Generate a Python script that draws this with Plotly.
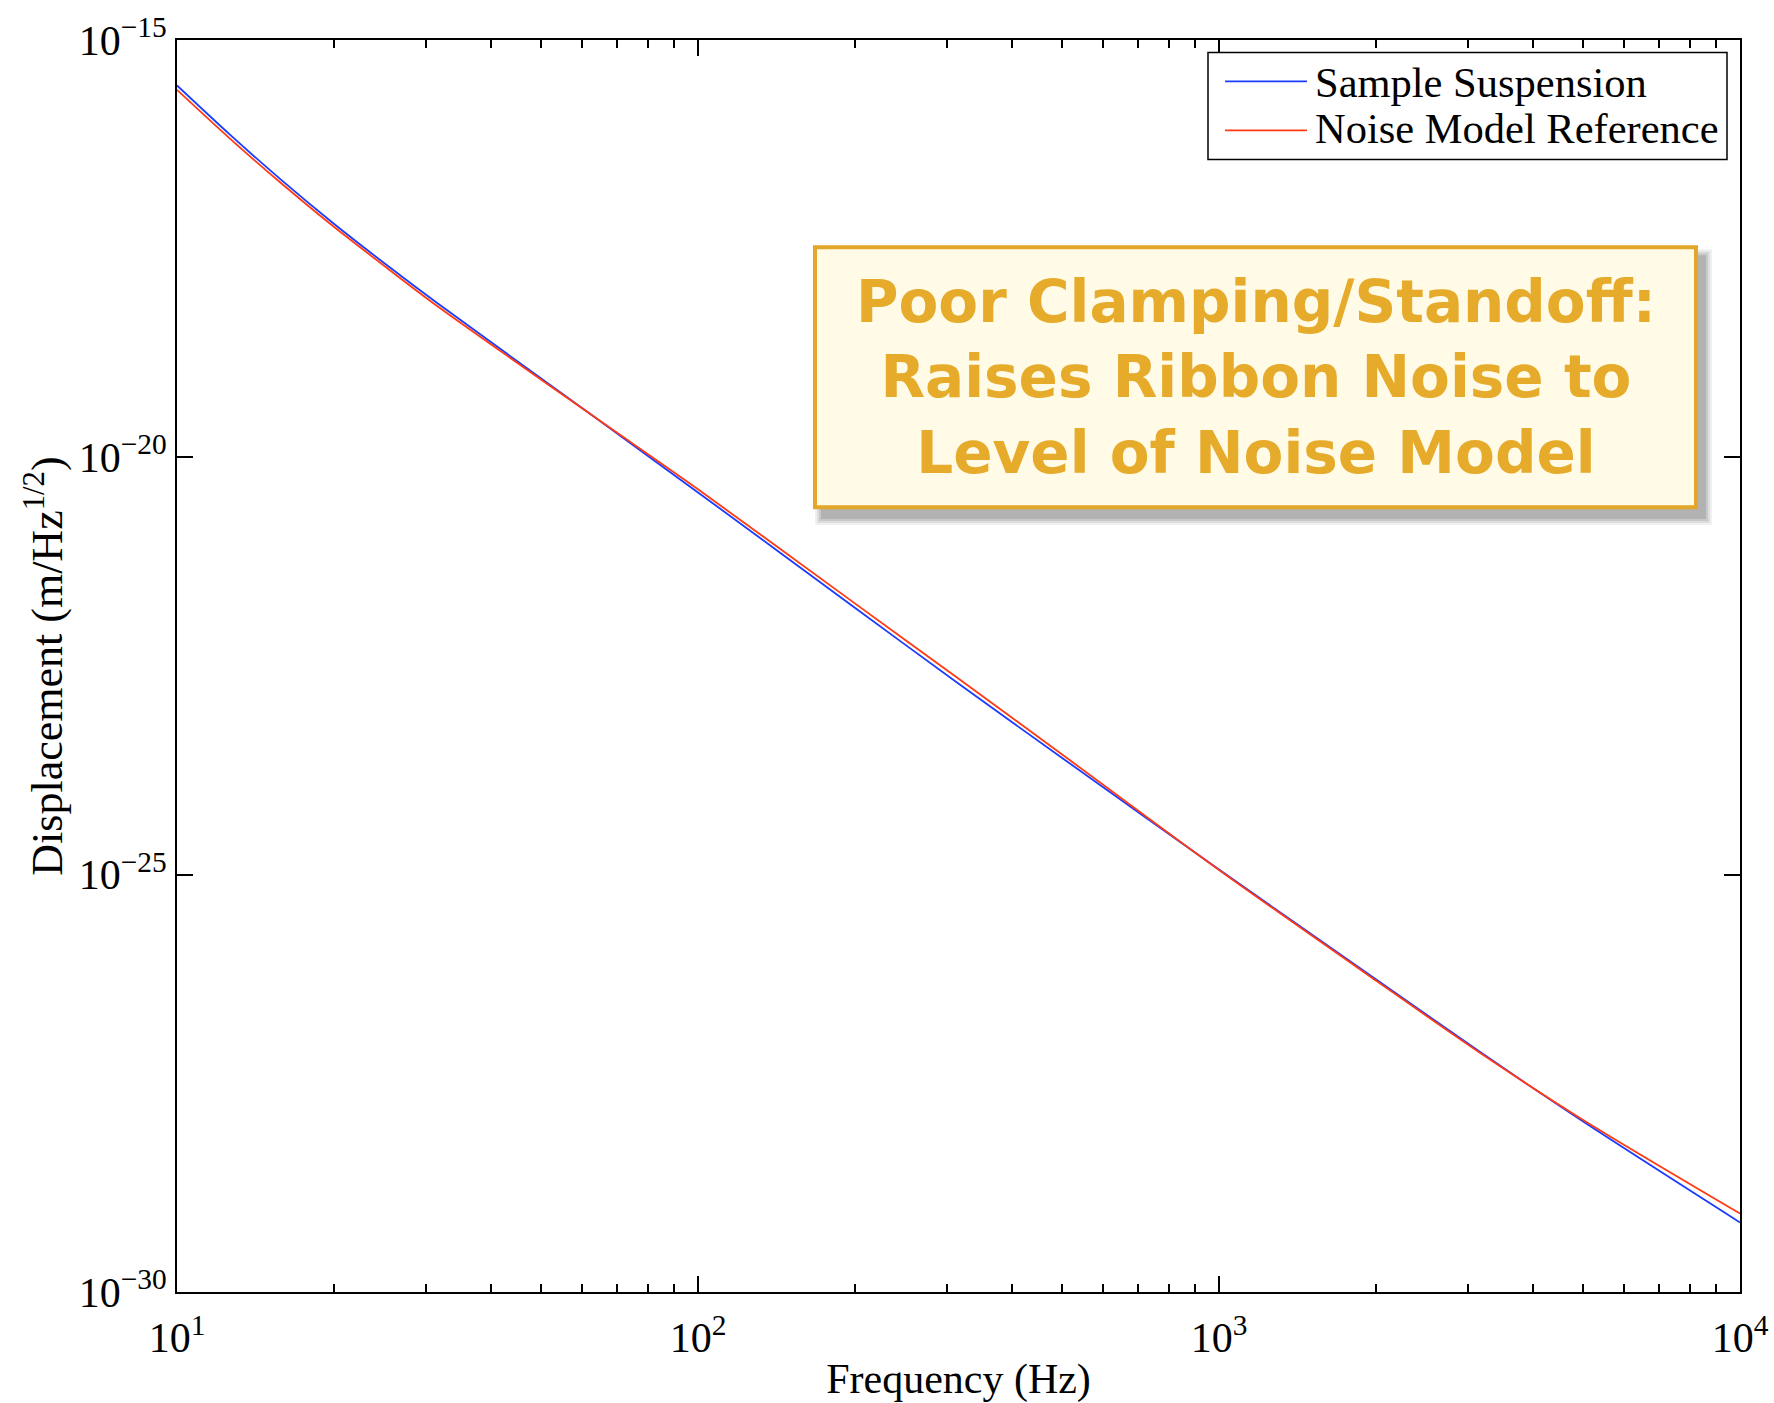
import plotly.graph_objects as go

# Frequency grid (Hz) and displacement spectral densities (m/Hz^1/2)
freq_hz = [10, 12.59, 15.85, 19.95, 25.12, 31.62, 63, 100, 200, 316, 500, 1000, 2000, 3162, 5000, 10000]
sample_suspension = [2.85e-16, 7.50e-17, 2.11e-17, 6.38e-18, 2.07e-18, 7.00e-19, 3.1e-20, 3.8e-21,
                     1.58e-22, 1.95e-23, 2.5e-24, 1.15e-25, 5.6e-27, 7.59e-28, 1.10e-28, 6.8e-30]
noise_model_ref = [2.53e-16, 6.73e-17, 1.92e-17, 5.86e-18, 1.92e-18, 6.46e-19, 3.1e-20, 4.14e-21,
                   1.78e-22, 2.24e-23, 2.75e-24, 1.14e-25, 5.4e-27, 7.41e-28, 1.15e-28, 8.7e-30]

series_names = ["Sample Suspension", "Noise Model Reference"]
series_colors = ["#1a3cff", "#ff3a14"]

x_major = [10, 100, 1000, 10000]
x_major_text = ["10<sup>1</sup>", "10<sup>2</sup>", "10<sup>3</sup>", "10<sup>4</sup>"]
x_minor = [m * d for d in (10, 100, 1000) for m in range(2, 10)]
y_major = [1e-30, 1e-25, 1e-20, 1e-15]
y_major_text = ["10<sup>\u221230</sup>", "10<sup>\u221225</sup>", "10<sup>\u221220</sup>", "10<sup>\u221215</sup>"]

callout_lines = ["Poor Clamping/Standoff:", "Raises Ribbon Noise to", "Level of Noise Model"]

W, H = 1774, 1403
L, R, T, B = 177, 1740, 39.5, 1292.5
serif = "Liberation Serif, Times New Roman, serif"


def px(x):
    return (x - L) / (R - L)


def py(y):
    return (B - y) / (B - T)


fig = go.Figure()
for vals, name, color in zip([sample_suspension, noise_model_ref], series_names, series_colors):
    fig.add_trace(go.Scatter(x=freq_hz, y=vals, mode="lines", name=name,
                             line=dict(color=color, width=1.8, shape="spline", smoothing=0.8),
                             showlegend=False))

# invisible trace carrying the minor-tick axis
fig.add_trace(go.Scatter(x=[10, 10000], y=[1e-30, 1e-15], xaxis="x2", mode="markers",
                         marker=dict(opacity=0), showlegend=False, hoverinfo="skip"))

axis_common = dict(showgrid=False, zeroline=False, showline=True, linecolor="black",
                   linewidth=1.8, ticks="inside", tickcolor="black", tickwidth=1.5,
                   mirror="ticks")

fig.update_layout(
    width=W, height=H,
    margin=dict(l=L, r=W - R, t=T, b=H - B, autoexpand=False),
    plot_bgcolor="white", paper_bgcolor="white",
    font=dict(family=serif, color="black", size=42),
    xaxis=dict(type="log", range=[1, 4], tickvals=x_major, ticktext=x_major_text,
               ticklen=16, tickfont=dict(size=42), ticklabelstandoff=8,
               title=dict(text="Frequency (Hz)", font=dict(size=42), standoff=4),
               **axis_common),
    xaxis2=dict(type="log", range=[1, 4], overlaying="x", anchor="y", side="bottom",
                tickvals=x_minor, showticklabels=False, ticklen=8, **axis_common),
    yaxis=dict(type="log", range=[-30, -15], tickvals=y_major, ticktext=y_major_text,
               ticklen=16, tickfont=dict(size=42), ticklabelstandoff=0,
               title=dict(text="Displacement (m/Hz<sup>1/2</sup>)", font=dict(size=44), standoff=2),
               **axis_common),
)

shapes = []
annotations = []

# legend box
lg_l, lg_r, lg_t, lg_b = 1208, 1727, 52, 159
shapes.append(dict(type="rect", xref="paper", yref="paper", x0=px(lg_l), x1=px(lg_r),
                   y0=py(lg_b), y1=py(lg_t), line=dict(color="black", width=1.5),
                   fillcolor="white", layer="above"))
for i, (name, color) in enumerate(zip(series_names, series_colors)):
    ly = [81, 130][i]
    ty = [82, 128][i]
    shapes.append(dict(type="line", xref="paper", yref="paper", x0=px(1225), x1=px(1307),
                       y0=py(ly), y1=py(ly), line=dict(color=color, width=1.8), layer="above"))
    annotations.append(dict(text=name, xref="paper", yref="paper", x=px(1313), y=py(ty),
                            xanchor="left", yanchor="middle", showarrow=False,
                            font=dict(family=serif, size=42.5, color="black")))

# callout box with soft drop shadow
bx_l, bx_r, bx_t, bx_b = 815, 1696, 247, 507
for k, op in enumerate([0.08, 0.10, 0.12, 0.16]):
    grow = 8 - 2 * k
    shapes.append(dict(type="rect", xref="paper", yref="paper",
                       x0=px(bx_l + 8 - grow), x1=px(bx_r + 8 + grow),
                       y0=py(bx_b + 10 + grow), y1=py(bx_t + 10 - grow),
                       line=dict(width=0), fillcolor="rgba(60,60,60,%.2f)" % op, layer="above"))
shapes.append(dict(type="rect", xref="paper", yref="paper", x0=px(bx_l), x1=px(bx_r),
                   y0=py(bx_b), y1=py(bx_t), line=dict(color="#e2a72a", width=4),
                   fillcolor="#fffbe6", layer="above"))
annotations.append(dict(text="<br>".join(callout_lines), xref="paper", yref="paper",
                        x=px((bx_l + bx_r) / 2), y=py((bx_t + bx_b) / 2),
                        xanchor="center", yanchor="middle", align="center", showarrow=False,
                        font=dict(family="DejaVu Sans, Open Sans, sans-serif", size=58,
                                  color="#e6ab2b", weight="bold")))

fig.update_layout(shapes=shapes, annotations=annotations)
fig.write_html("out.html")
